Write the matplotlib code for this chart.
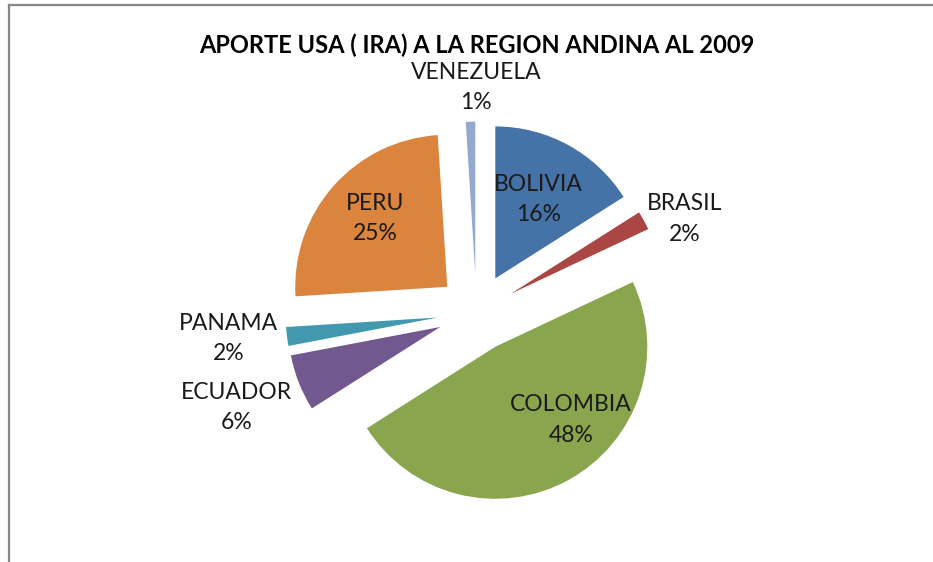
import numpy as np
import matplotlib
matplotlib.use('Agg')
import matplotlib.pyplot as plt
from matplotlib.lines import Line2D

# data
countries = ['BOLIVIA', 'BRASIL', 'COLOMBIA', 'ECUADOR', 'PANAMA', 'PERU', 'VENEZUELA']
shares = [16, 2, 48, 6, 2, 25, 1]
colors = ['#4572A7', '#AA4643', '#89A54E', '#71588F', '#4198AF', '#DB843D', '#93A9CF']

# label placement (fraction of radius, angle tweak in degrees) per slice
label_r = [0.85, 1.50, 0.94, 1.70, 1.64, 0.91, 1.48]
label_dth = [0, -4.6, 12.5, 0, -1.2, -1.5, -1.7]

plt.rcParams['font.family'] = ['Lato', 'DejaVu Sans']

W, H = 933, 562
fig = plt.figure(figsize=(W / 100, H / 100), dpi=100)
ax = fig.add_axes([0, 0, 1, 1])

cx, cy, R = 476.5, H - 312.6, 152
# explode is given in data units (pixels here)
wedges, _ = ax.pie(shares, colors=colors, startangle=90, counterclock=False,
                   explode=[39] * len(shares), radius=R, center=(cx, cy),
                   wedgeprops=dict(linewidth=0))
ax.set_xlim(0, W)
ax.set_ylim(0, H)
ax.set_aspect('equal', adjustable='box')
ax.axis('off')

for w, name, val, r, dth in zip(wedges, countries, shares, label_r, label_dth):
    th = np.deg2rad((w.theta1 + w.theta2) / 2 + dth)
    x = cx + r * R * np.cos(th)
    y = cy + r * R * np.sin(th)
    ax.text(x, y, f'{name}\n{val}%', ha='center', va='center', fontsize=16.5,
            color='#1a1a1a', linespacing=1.55)

fig.text(0.511, 1 - 45 / H, 'APORTE USA ( IRA) A LA REGION ANDINA AL 2009',
         ha='center', va='center', fontsize=17, fontweight='bold', color='black')

# chart frame (top and left edges visible)
fig.add_artist(Line2D([9 / W, 9 / W], [0, 1 - 4.5 / H], transform=fig.transFigure,
                      color='#878787', linewidth=1.6))
fig.add_artist(Line2D([9 / W, 1], [1 - 4.5 / H, 1 - 4.5 / H], transform=fig.transFigure,
                      color='#878787', linewidth=1.6))

fig.savefig('out.png', dpi=100)
